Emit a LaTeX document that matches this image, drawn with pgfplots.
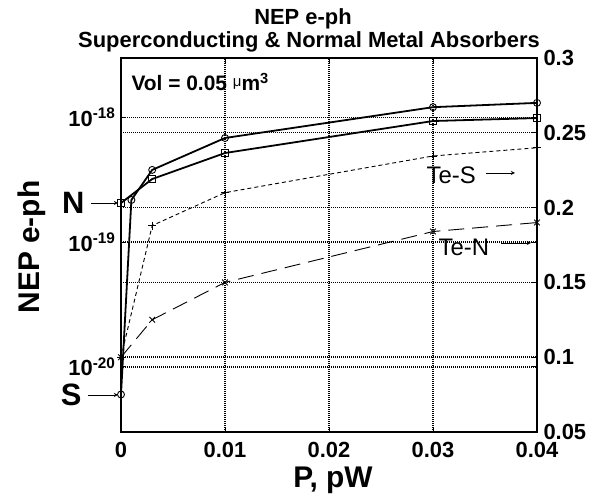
\documentclass[border=0pt]{standalone}
\usepackage{pgfplots}
\pgfplotsset{compat=1.18}
\usepackage{fontspec}
\setmainfont{Liberation Sans}
\begin{document}
\begin{tikzpicture}[x=1bp,y=1bp]
\pgfplotsset{
  common/.style={
    at={(0,0)}, anchor=south west,
    scale only axis, width=416bp, height=374bp,
    xmin=0, xmax=0.04,
    scaled x ticks=false, scaled y ticks=false,
    tick align=inside,
    major tick length=5bp,
    tick style={line width=1bp, black},
    grid style={black, line width=1.4bp, dash pattern=on 1.1bp off 0.9bp},
    ticklabel style={font=\bfseries\fontsize{22}{22}\selectfont},
  },
}
\begin{axis}[
  common,
  axis line style={line width=1.6bp},
  ymode=log, ymin=3e-21, ymax=3e-18,
  xtick={0,0.01,0.02,0.03,0.04},
  xticklabels={0,0.01,0.02,0.03,0.04},
  xticklabel style={yshift=-7bp},
  ytick={1e-20,1e-19,1e-18},
  yticklabels={10\textsuperscript{-20},10\textsuperscript{-19},10\textsuperscript{-18}},
  yticklabel style={xshift=-2bp},
  yminorticks=false,
  xmajorgrids, ymajorgrids,
]
\addplot[black, line width=1.8bp, mark=o, mark size=3.5bp, mark options={solid, line width=0.9bp}]
  coordinates {(0,6.0e-21) (0.001,2.18e-19) (0.003,3.8e-19) (0.01,6.85e-19) (0.03,1.21e-18) (0.04,1.31e-18)};
\addplot[black, line width=1.8bp, mark=square, mark size=3.5bp, mark options={solid, line width=0.9bp}]
  coordinates {(0,2.06e-19) (0.003,3.21e-19) (0.01,5.19e-19) (0.03,9.37e-19) (0.04,9.9e-19)};
\end{axis}
\begin{axis}[
  common,
  axis x line=none, axis y line*=right,
  axis line style={line width=1.6bp},
  ymin=0.05, ymax=0.3,
  ytick={0.05,0.1,0.15,0.2,0.25,0.3},
  yticklabels={0.05,0.1,0.15,0.2,0.25,0.3},
  yticklabel style={xshift=3bp},
  ymajorgrids,
]
\addplot[black, line width=0.9bp, dash pattern=on 4bp off 3bp, mark=+, mark size=4bp, mark options={solid}]
  coordinates {(0,0.1) (0.003,0.188) (0.01,0.210) (0.03,0.2345) (0.04,0.240)};
\addplot[black, line width=0.9bp, dash pattern=on 16bp off 8bp, mark=x, mark size=4bp, mark options={solid}]
  coordinates {(0,0.1) (0.003,0.125) (0.01,0.150) (0.03,0.184) (0.04,0.190)};
\end{axis}
% titles and labels
\node[font=\bfseries\fontsize{22}{22}\selectfont] at (182,413) {NEP e-ph};
\node[font=\bfseries\fontsize{22}{22}\selectfont] at (188,390) {Superconducting \& Normal Metal Absorbers};
\node[font=\bfseries\fontsize{30}{30}\selectfont, rotate=90] at (-89,185) {NEP e-ph};
\node[font=\bfseries\fontsize{30}{30}\selectfont] at (212,-48) {P, pW};
% annotations
\node[font=\bfseries\fontsize{21}{21}\selectfont, anchor=west] at (7,350) {Vol = 0.05 \raisebox{4bp}{\mdseries\fontsize{15}{15}\selectfont μ}m\textsuperscript{3}};
\node[font=\fontsize{24}{24}\selectfont, anchor=west] at (302,257) {Te-S};
\draw[-stealth, line width=0.9bp] (365,259) -- (394,259);
\node[font=\fontsize{24}{24}\selectfont, anchor=west] at (314,185) {Te-N};
\draw[-stealth, line width=0.9bp] (380,189) -- (410,189);
\node[font=\bfseries\fontsize{31}{31}\selectfont, anchor=east] at (-33,229) {N};
\draw[-stealth, line width=0.9bp] (-30,229) -- (-3,229);
\node[font=\bfseries\fontsize{31}{31}\selectfont, anchor=east] at (-36,37) {S};
\draw[-stealth, line width=0.9bp] (-33,37) -- (-3,37);
\pgfresetboundingbox
\path[use as bounding box] (-121,-66) rectangle (474,432);
\end{tikzpicture}
\end{document}
